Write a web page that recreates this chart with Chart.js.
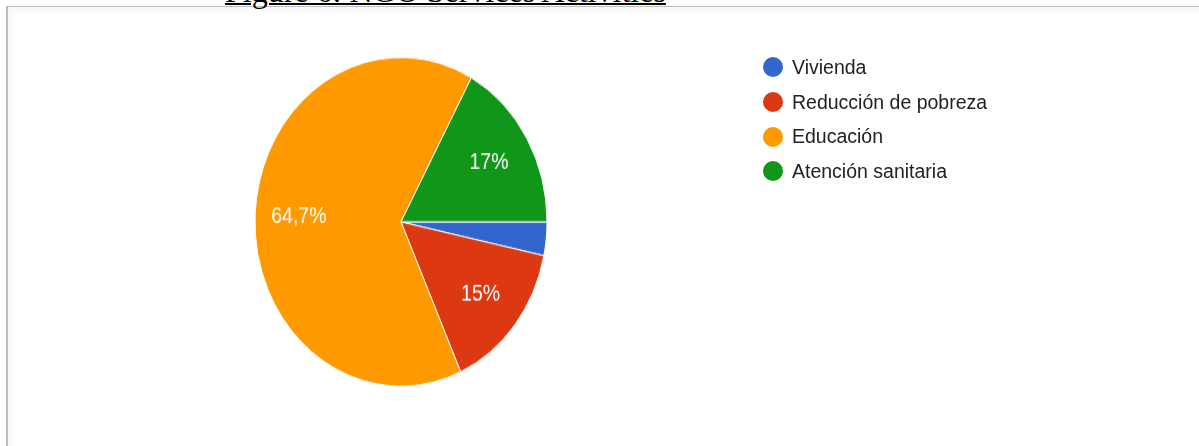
<!DOCTYPE html>
<html>
<head>
<meta charset="utf-8">
<script src="https://cdn.jsdelivr.net/npm/chart.js@4"></script>
<style>
  html, body { margin: 0; padding: 0; background: #fff; width: 1199px; height: 446px; overflow: hidden; position: relative; }
  #frame { position: absolute; left: 6px; top: 6px; right: -4px; bottom: -4px;
           border-top: 1px solid #bdbdbd; border-left: 2px solid #bdbdbd;
           box-shadow: inset 3px 4px 5px rgba(0,0,0,0.035); }
  #title { position: absolute; left: 225px; top: -27px; font-family: "Liberation Serif", "Times New Roman", serif;
           font-size: 32px; white-space: nowrap; color: #000;
           text-decoration: underline; text-decoration-thickness: 2px; }
  #pieWrap { position: absolute; left: 0; top: 0; width: 1199px; height: 396px;
             transform: scaleY(1.126); transform-origin: 0 0; }
  #legend { position: absolute; left: 763px; top: 50px; font-family: "Liberation Sans", Arial, sans-serif;
            font-size: 19.5px; color: #222; }
  .item { display: flex; align-items: center; height: 34.7px; white-space: nowrap; }
  .dot { width: 20px; height: 20px; border-radius: 50%; margin-right: 9px; flex: none; }
</style>
</head>
<body>
<div id="frame"></div>
<div id="title">Figure 6: NGO Services Activities</div>
<div id="pieWrap"><canvas id="pie" width="1199" height="396"></canvas></div>
<div id="legend"></div>

<script>
// Services reported, in percent of answers
const categories = ['Vivienda', 'Reducción de pobreza', 'Educación', 'Atención sanitaria'];
const shares = [3.3, 15, 64.7, 17];
const palette = ['#3366cc', '#dc3912', '#ff9900', '#109618'];

// Legend built from the same categories and colours
const legend = document.getElementById('legend');
categories.forEach((name, i) => {
  const row = document.createElement('div');
  row.className = 'item';
  const dot = document.createElement('span');
  dot.className = 'dot';
  dot.style.background = palette[i];
  const txt = document.createElement('span');
  txt.textContent = name;
  row.appendChild(dot);
  row.appendChild(txt);
  legend.appendChild(row);
});

// Percentage text written inside each slice large enough to hold it
const sliceLabels = {
  id: 'sliceLabels',
  afterDatasetsDraw(chart) {
    const ctx = chart.ctx;
    const meta = chart.getDatasetMeta(0);
    ctx.save();
    ctx.font = '19.5px "Liberation Sans", Arial, sans-serif';
    ctx.fillStyle = '#ffffff';
    ctx.textAlign = 'center';
    ctx.textBaseline = 'middle';
    meta.data.forEach((arc, i) => {
      const v = shares[i];
      if (v < 5) return;
      const p = arc.getProps(['x', 'y', 'startAngle', 'endAngle', 'outerRadius'], true);
      const mid = (p.startAngle + p.endAngle) / 2;
      const r = p.outerRadius * 0.7;
      ctx.fillText(String(v).replace('.', ',') + '%', p.x + Math.cos(mid) * r, p.y + Math.sin(mid) * r);
    });
    ctx.restore();
  }
};

new Chart(document.getElementById('pie'), {
  type: 'pie',
  data: {
    labels: categories,
    datasets: [{
      data: shares,
      backgroundColor: palette,
      borderColor: '#ffffff',
      borderWidth: 1
    }]
  },
  options: {
    responsive: false,
    animation: false,
    devicePixelRatio: 1,
    rotation: 90,
    layout: { padding: { left: 254.5, right: 651.5, top: 50, bottom: 52 } },
    plugins: {
      legend: { display: false },
      tooltip: { enabled: false }
    }
  },
  plugins: [sliceLabels]
});
</script>
</body>
</html>
